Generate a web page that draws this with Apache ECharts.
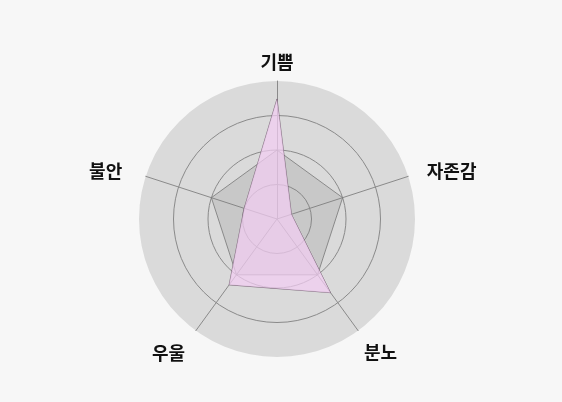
<!DOCTYPE html>
<html>
<head>
<meta charset="utf-8">
<script src="https://cdn.jsdelivr.net/npm/echarts@6/dist/echarts.min.js"></script>
<style>
html,body{margin:0;padding:0;background:#f7f7f7;}
#c{width:562px;height:402px;}
</style>
</head>
<body>
<div id="c"></div>
<script>
const indicators = ['기쁨', '불안', '우울', '분노', '자존감'];
const maxValue = 100;
const baselineValues = [50, 50, 50, 50, 50];
const emotionValues = [87, 25, 59, 66, 11];

const nameKeys = { '기쁨': 'a', '불안': 'b', '우울': 'c', '분노': 'd', '자존감': 'e' };
const baseText = { color: '#111', fontSize: 18, fontWeight: 'bold', fontFamily: 'Noto Sans CJK KR' };

const chart = echarts.init(document.getElementById('c'));
chart.setOption({
  backgroundColor: '#f7f7f7',
  animation: false,
  radar: {
    center: [277, 219],
    radius: 138,
    shape: 'circle',
    splitNumber: 4,
    indicator: indicators.map(n => ({ name: n, max: maxValue })),
    nameGap: 10,
    axisName: Object.assign({}, baseText, {
      formatter: (n) => '{' + nameKeys[n] + '|' + n + '}',
      rich: {
        a: Object.assign({}, baseText),
        b: Object.assign({}, baseText, { padding: [0, 14, 4, 0] }),
        c: Object.assign({}, baseText, { padding: [28, 5, 0, 0] }),
        d: Object.assign({}, baseText, { padding: [27, 0, 0, 0] }),
        e: Object.assign({}, baseText, { padding: [0, 0, 4, 9] })
      }
    }),
    splitArea: { areaStyle: { color: ['#dadada'] } },
    splitLine: { lineStyle: { color: ['#8a8a8a', '#8a8a8a', '#8a8a8a', '#8a8a8a', 'rgba(0,0,0,0)'], width: 1 } },
    axisLine: { lineStyle: { color: '#8a8a8a', width: 1 } }
  },
  series: [{
    type: 'radar',
    symbol: 'none',
    data: [
      {
        value: baselineValues,
        lineStyle: { color: '#777777', width: 0.8 },
        areaStyle: { color: 'rgba(120,120,120,0.18)', opacity: 1 }
      },
      {
        value: emotionValues,
        lineStyle: { color: '#6e5a6c', width: 0.8 },
        areaStyle: { color: 'rgba(243,205,243,0.72)', opacity: 1 }
      }
    ]
  }]
});
</script>
</body>
</html>
